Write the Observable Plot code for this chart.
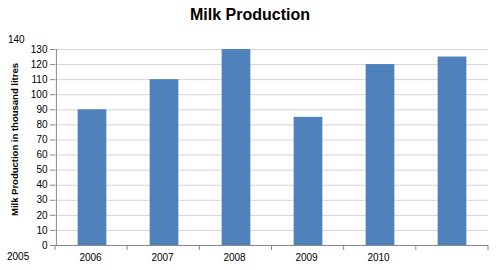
<!DOCTYPE html>
<html>
<head>
<meta charset="utf-8">
<script src="https://cdn.jsdelivr.net/npm/d3@7"></script>
<script src="https://cdn.jsdelivr.net/npm/@observablehq/plot@0.6"></script>
<style>
  html, body { margin: 0; padding: 0; background: #fff; }
  #wrap { position: relative; width: 500px; height: 270px; font-family: "Liberation Sans", Arial, sans-serif; }
  #title { position: absolute; left: 0; top: 6px; width: 500px; text-align: center; font-weight: bold; font-size: 16px; color: #000; }
  #chart { position: absolute; left: 0; top: 30px; }
  .corner { position: absolute; font-size: 10px; color: #000; }
</style>
</head>
<body>
<div id="wrap">
  <div id="title">Milk Production</div>
  <div id="chart"></div>
  <div class="corner" style="left:8px; top:34px;">140</div>
  <div class="corner" style="left:7px; top:251px;">2005</div>
</div>
<script>
const keys = ["b1", "b2", "b3", "b4", "b5", "b6"];
const xLabels = ["2006", "2007", "2008", "2009", "2010", ""];
const production = [90, 110, 130, 85, 120, 125];
const yTicks = [0, 10, 20, 30, 40, 50, 60, 70, 80, 90, 100, 110, 120, 130];
const yLabel = "Milk Production in thousand litres";

const data = keys.map((k, i) => ({key: k, label: xLabels[i], value: production[i]}));
const labelOf = new Map(data.map(d => [d.key, d.label]));

const W = 500, H = 240, mL = 55, mR = 12, mT = 19, mB = 25;
const step = (W - mL - mR) / keys.length;

const chart = Plot.plot({
  width: W, height: H,
  marginLeft: mL, marginRight: mR, marginTop: mT, marginBottom: mB,
  style: {fontFamily: "Liberation Sans, Arial, sans-serif", fontSize: "10px", color: "#000", background: "#fff"},
  x: {type: "band", domain: keys, padding: 0, label: null},
  y: {type: "linear", domain: [0, 130], label: null},
  marks: [
    Plot.gridY(yTicks, {stroke: "#d4d4d4", strokeOpacity: 1}),
    Plot.barY(data, {x: "key", y: "value", fill: "#4f81bd", insetLeft: step * 0.3, insetRight: step * 0.3}),
    Plot.axisY(yTicks, {tickSize: 5, tickPadding: 3, stroke: "#8a8a8a", fill: "#000", label: null}),
    Plot.ruleX([keys[0]], {x: d => d, y1: 0, y2: 130, stroke: "#8a8a8a", dx: -step / 2}),
    Plot.ruleY([0], {stroke: "#8a8a8a"}),
    Plot.axisX({tickSize: 0, tickPadding: 8, tickFormat: k => labelOf.get(k), fill: "#000", label: null, dx: -2}),
    Plot.text([yLabel], {frameAnchor: "left", textAnchor: "middle", dx: -41, dy: -8, rotate: -90, fontWeight: "bold", fontSize: 9.5, fill: "#000", lineWidth: 100})
  ]
});
document.getElementById("chart").appendChild(chart);

// tick marks below the bottom axis at category boundaries
const svg = d3.select(chart);
const yBase = H - mB;
const boundaries = d3.range(keys.length + 1).map(i => mL + i * step);
svg.append("g").selectAll("line").data(boundaries).join("line")
  .attr("x1", d => d).attr("x2", d => d)
  .attr("y1", yBase).attr("y2", yBase + 5)
  .attr("stroke", "#8a8a8a");
</script>
</body>
</html>
